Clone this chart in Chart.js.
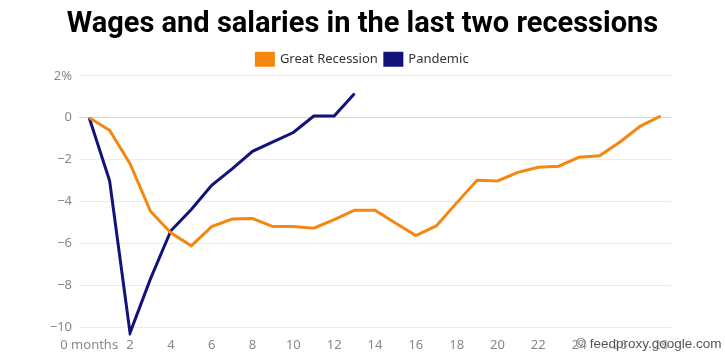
<!DOCTYPE html>
<html>
<head>
<meta charset="utf-8">
<script src="https://cdn.jsdelivr.net/npm/chart.js@4"></script>
<style>
  body { margin: 0; background: #fff; }
  #wrap { position: relative; width: 725px; height: 363px; }
  #mark {
    position: absolute; left: 576px; top: 336px; white-space: nowrap;
    font: 13.5px "Liberation Sans", sans-serif; color: #555;
    text-shadow: 0 0 2px #fff, 0 0 2px #fff;
  }
</style>
</head>
<body>
<div id="wrap">
  <canvas id="wages-chart" width="725" height="363"></canvas>
  <div id="mark">© feedproxy.google.com</div>
</div>
<script>
// months since the start of each recession
const months = [0, 1, 2, 3, 4, 5, 6, 7, 8, 9, 10, 11, 12, 13, 14, 15, 16, 17, 18, 19, 20, 21, 22, 23, 24, 25, 26, 27, 28]
// % change in wages and salaries
const greatRecession = [0, -0.6, -2.2, -4.47, -5.5, -6.12, -5.2, -4.84, -4.82, -5.2, -5.2, -5.28, -4.87, -4.42, -4.42, -5.03, -5.63, -5.17, -4.07, -2.99, -3.02, -2.61, -2.37, -2.32, -1.89, -1.82, -1.16, -0.4, 0.08]
const pandemic = [0, -3.02, -10.28, -7.7, -5.4, -4.39, -3.23, -2.45, -1.61, -1.16, -0.71, 0.08, 0.08, 1.15]

const xTicks = [0, 2, 4, 6, 8, 10, 12, 14, 16, 18, 20, 22, 24, 26, 28]
const yTicks = [2, 0, -2, -4, -6, -8, -10]

const toPoints = (values) => values.map((v, i) => ({ x: months[i], y: v }))

const tickFont = { family: "'Noto Sans', sans-serif", size: 13 }

new Chart(document.getElementById("wages-chart"), {
    type: 'line',
    data: {
        datasets: [{
            label: "Great Recession",
            data: toPoints(greatRecession),
            borderColor: "#f5870f",
            backgroundColor: "#f5870f",
            borderWidth: 3,
            pointRadius: 0,
            tension: 0
        }, {
            label: "Pandemic",
            data: toPoints(pandemic),
            borderColor: "#12127a",
            backgroundColor: "#12127a",
            borderWidth: 3,
            pointRadius: 0,
            tension: 0
        }]
    },
    options: {
        responsive: false,
        animation: false,
        layout: { padding: { left: 0, right: 0, top: 5, bottom: 8 } },
        plugins: {
            title: {
                display: true,
                text: "Wages and salaries in the last two recessions",
                color: "#000",
                font: { family: "'Roboto', sans-serif", size: 29, weight: 'bold' },
                padding: { top: 2, bottom: 4 }
            },
            legend: {
                labels: {
                    boxWidth: 17,
                    boxHeight: 12,
                    color: "#333",
                    font: tickFont,
                    padding: 7
                }
            },
            tooltip: { enabled: false }
        },
        scales: {
            x: {
                type: 'linear',
                min: -0.5,
                max: 28.5,
                afterBuildTicks: (axis) => { axis.ticks = xTicks.map(v => ({ value: v })) },
                grid: { display: false, drawTicks: false },
                border: { display: false },
                ticks: {
                    color: "#888",
                    font: tickFont,
                    padding: 2,
                    maxRotation: 0,
                    autoSkip: false,
                    callback: (v) => v === 0 ? "0 months" : v
                }
            },
            y: {
                min: -10.4,
                max: 2,
                afterBuildTicks: (axis) => { axis.ticks = yTicks.map(v => ({ value: v })) },
                afterFit: (axis) => { axis.width = 79 },
                grid: {
                    color: (c) => c.tick && c.tick.value === 0 ? "#d4d4d4" : "#ececec",
                    drawTicks: false
                },
                border: { display: false },
                ticks: {
                    color: "#888",
                    font: tickFont,
                    padding: 7,
                    callback: (v) => v === 2 ? "2%" : (v < 0 ? "\u2212" + Math.abs(v) : v)
                }
            },
            // empty right-hand axis, only keeps the plot clear of the right edge
            spacer: {
                type: 'linear',
                position: 'right',
                grid: { display: false, drawTicks: false },
                border: { display: false },
                ticks: { display: false },
                afterFit: (axis) => { axis.width = 54 }
            }
        }
    }
})
</script>
</body>
</html>
